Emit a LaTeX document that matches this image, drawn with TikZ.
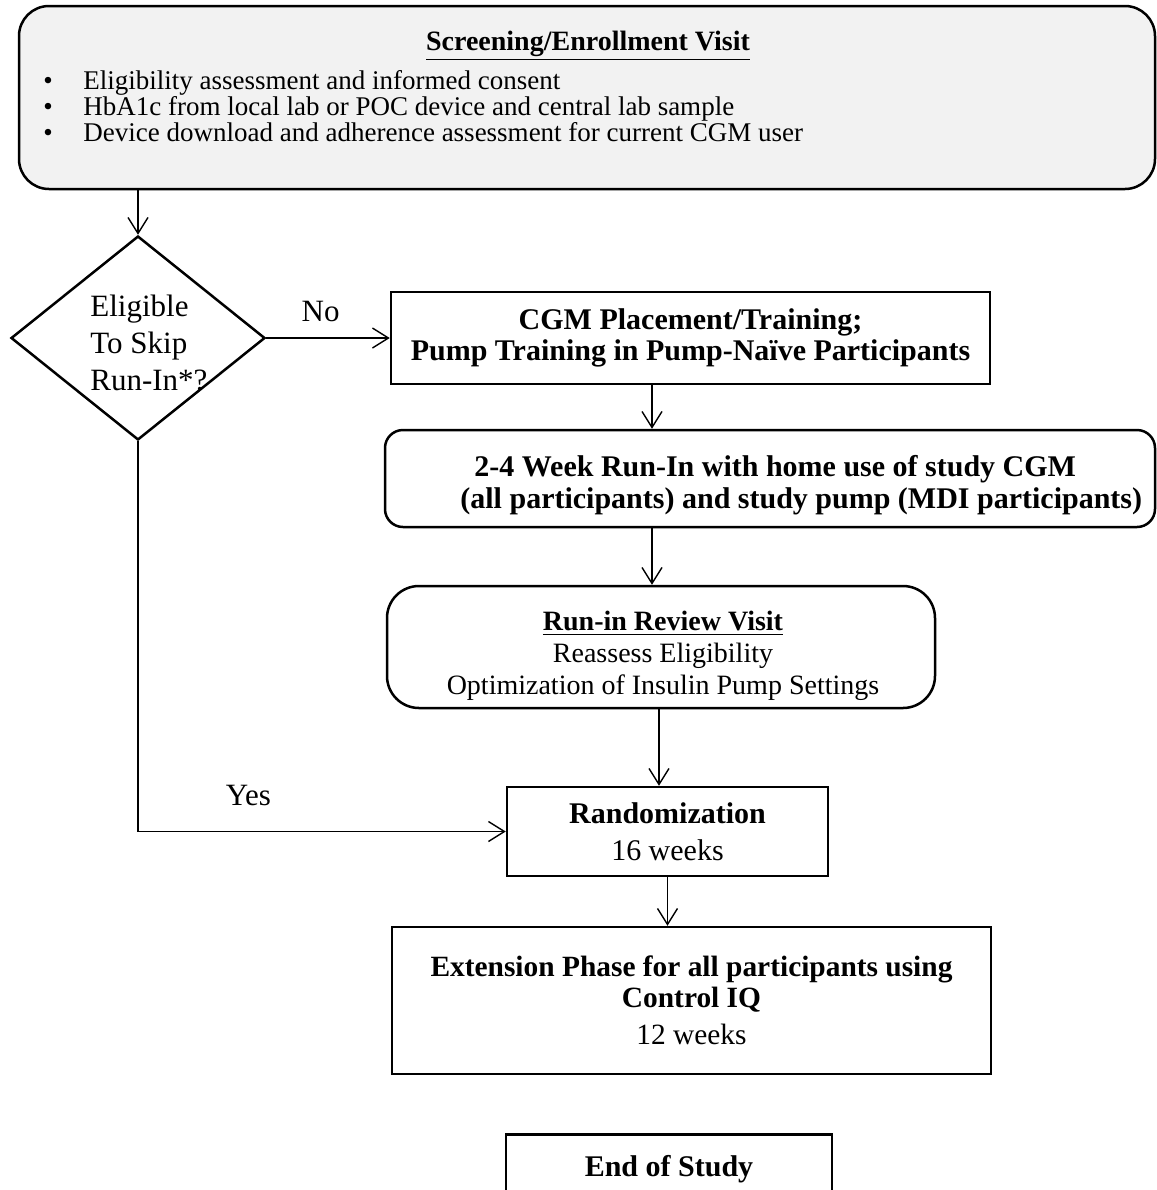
\documentclass[tikz,border=0pt]{standalone}
\usepackage{fontspec}
\setmainfont{Liberation Serif}
\usetikzlibrary{arrows.meta, positioning, shapes.geometric}
\definecolor{screenfill}{HTML}{F2F2F2}

\begin{document}
\begin{tikzpicture}[
  x=0.5pt, y=-0.5pt,
  arr/.style={-{Straight Barb[length=8pt, width=10pt]}, line width=0.7pt},
  sqbox/.style={draw, line width=1.25pt, inner sep=0pt, align=center, font=\fontsize{15}{16.5}\selectfont},
  rbox/.style={sqbox, rounded corners=#1},
  rbox/.default=10pt,
  plain/.style={inner sep=0pt, font=\fontsize{15.5}{18.3}\selectfont},
  listtxt/.style={inner sep=0pt, align=left, font=\fontsize{13.5}{13}\selectfont}
]
\useasboundingbox (0,0) rectangle (1157,1190);
\clip (0,0) rectangle (1157,1190);

% screening visit
\node[rbox=15pt, fill=screenfill, minimum width=568pt, minimum height=91.5pt] (screen) at (587,97.5) {};
\node[inner sep=0pt, font=\bfseries\fontsize{14}{15}\selectfont] (screentitle) at (588,46) {\underline{Screening/Enrollment Visit}};
\node[listtxt, anchor=north west] (screenlist) at (43,70) {%
  \makebox[20pt][l]{\textbullet}Eligibility assessment and informed consent\\
  \makebox[20pt][l]{\textbullet}HbA1c from local lab or POC device and central lab sample\\
  \makebox[20pt][l]{\textbullet}Device download and adherence assessment for current CGM user};

% decision
\node[draw, diamond, line width=1.25pt, minimum width=127pt, minimum height=102pt, inner sep=0pt] (dec) at (138,338) {};
\node[plain, align=left, anchor=west] (dectxt) at (90,343) {Eligible\\To Skip\\Run-In*?};

% run-in path
\node[sqbox, minimum width=299.5pt, minimum height=46pt, font=\bfseries\fontsize{15}{15.5}\selectfont] (cgm) at (690.5,338) {CGM Placement/Training;\\Pump Training in Pump-Naïve Participants};
\node[rbox=9pt, minimum width=385pt, minimum height=48.5pt] (runin) at (770,478.5) {};
\node[inner sep=0pt, align=left, anchor=west, font=\bfseries\fontsize{15}{16}\selectfont] (runintxt) at (460,485) {\hspace*{7pt}2-4 Week Run-In with home use of study CGM\\(all participants) and study pump (MDI participants)};
\node[rbox=16pt, minimum width=274pt, minimum height=61pt] (review) at (661,647) {};
\node[inner sep=0pt, align=center, font=\fontsize{14}{16}\selectfont] (reviewtxt) at (663,656) {\underline{\textbf{Run-in Review Visit}}\\Reassess Eligibility\\Optimization of Insulin Pump Settings};

% randomized phases
\node[sqbox, minimum width=160.5pt, minimum height=44.5pt, font=\fontsize{15}{18.5}\selectfont] (rand) at (667.5,831.5) {\textbf{Randomization}\\16 weeks};
\node[sqbox, minimum width=299.5pt, minimum height=73.5pt, font=\fontsize{14.7}{15.5}\selectfont] (ext) at (691.5,1000.5) {\textbf{Extension Phase for all participants using}\\\textbf{Control IQ}\\[3pt]12 weeks};
\node[sqbox, anchor=north, minimum width=163pt, text height=21pt, text depth=27.5pt, font=\bfseries\fontsize{15}{16}\selectfont] (eos) at (669,1133) {End of Study};

% connectors
\coordinate (colA) at (652,0);
\coordinate (colB) at (659,0);
\draw[arr] (screen.south -| dec.north) -- (dec.north);
\draw[arr] (dec.east) -- node[plain, above=8pt, pos=0.44] (nolbl) {No} (cgm.west |- dec.east);
\draw[arr] (cgm.south -| colA) -- (runin.north -| colA);
\draw[arr] (runin.south -| colA) -- (review.north -| colA);
\draw[arr] (review.south -| colB) -- (rand.north -| colB);
\draw[arr] (rand.south) -- (ext.north -| rand.south);
\draw[arr] (dec.south) |- node[plain, above=12.5pt, pos=0.65] (yeslbl) {Yes} (rand.west);
\end{tikzpicture}
\end{document}
